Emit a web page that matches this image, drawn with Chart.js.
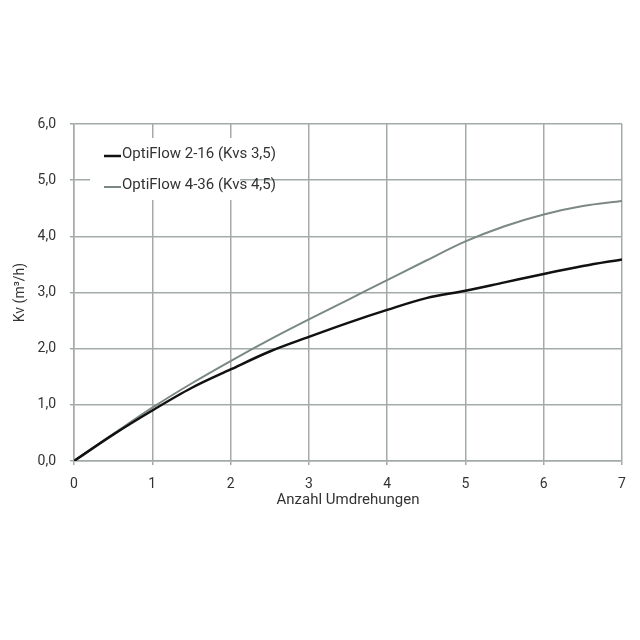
<!DOCTYPE html>
<html>
<head>
<meta charset="utf-8">
<script src="https://cdn.jsdelivr.net/npm/chart.js@4"></script>
<style>
  html, body { margin: 0; padding: 0; background: #fff; }
  #wrap { width: 640px; height: 640px; }
</style>
</head>
<body>
<div id="wrap"><canvas id="chart" width="640" height="640"></canvas></div>
<script>
// turns (Anzahl Umdrehungen)
const turns = [0, 0.5, 1, 1.5, 2, 2.5, 3, 3.5, 4, 4.5, 5, 5.5, 6, 6.5, 7];
// Kv values
const kvSmall = [0, 0.47, 0.9, 1.3, 1.63, 1.95, 2.21, 2.46, 2.69, 2.9, 3.03, 3.18, 3.33, 3.47, 3.59];
const kvLarge = [0, 0.48, 0.95, 1.38, 1.78, 2.16, 2.52, 2.87, 3.22, 3.57, 3.91, 4.18, 4.39, 4.54, 4.63];
const seriesNames = ['OptiFlow 2-16 (Kvs 3,5)', 'OptiFlow 4-36 (Kvs 4,5)'];
const seriesColors = ['#111111', '#7c8885'];

const gridColor = '#a3aba9';
const textColor = '#333333';
const fontFamily = 'Roboto, "DejaVu Sans", sans-serif';

const toPoints = ys => turns.map((x, i) => ({ x: x, y: ys[i] }));

// legend drawn inside the plot on a white box
const innerLegend = {
  id: 'innerLegend',
  afterDatasetsDraw(chart) {
    const ctx = chart.ctx;
    ctx.save();
    ctx.fillStyle = '#ffffff';
    ctx.fillRect(90, 138, 166, 40);
    ctx.fillRect(90, 178, 150, 22);
    ctx.font = '15px ' + fontFamily;
    ctx.textBaseline = 'middle';
    const rows = [156, 187];
    chart.data.datasets.forEach((ds, i) => {
      ctx.strokeStyle = ds.borderColor;
      ctx.lineWidth = i === 0 ? 2.5 : 2;
      ctx.beginPath();
      ctx.moveTo(104, rows[i]);
      ctx.lineTo(121, rows[i]);
      ctx.stroke();
      ctx.fillStyle = textColor;
      ctx.fillText(ds.label, 122, rows[i] - 2);
    });
    ctx.restore();
  }
};

new Chart(document.getElementById('chart'), {
  type: 'line',
  data: {
    datasets: [
      { label: seriesNames[0], data: toPoints(kvSmall), borderColor: seriesColors[0], borderWidth: 2.5,
        pointRadius: 0, cubicInterpolationMode: 'monotone', fill: false },
      { label: seriesNames[1], data: toPoints(kvLarge), borderColor: seriesColors[1], borderWidth: 2,
        pointRadius: 0, cubicInterpolationMode: 'monotone', fill: false }
    ]
  },
  options: {
    responsive: false,
    animation: false,
    layout: { padding: { top: 124, right: 18, bottom: 119, left: 0 } },
    plugins: { legend: { display: false }, tooltip: { enabled: false } },
    scales: {
      x: {
        type: 'linear', min: 0, max: 7,
        ticks: { stepSize: 1, color: textColor, padding: 11, font: { family: fontFamily, size: 14 } },
        grid: { color: gridColor, lineWidth: 1.5, tickLength: 4 },
        border: { color: gridColor, width: 1.5 },
        title: { display: true, text: 'Anzahl Umdrehungen', color: textColor,
                 font: { family: fontFamily, size: 15 }, padding: { top: 0, bottom: 12 } },
        afterFit(scale) { scale.height = 60; }
      },
      y: {
        min: 0, max: 6,
        ticks: { stepSize: 1, color: textColor, padding: 14,
                 font: { family: fontFamily, size: 14 },
                 callback: v => v.toFixed(1).replace('.', ',') },
        grid: { color: gridColor, lineWidth: 1.5, tickLength: 4 },
        border: { color: gridColor, width: 1.5 },
        title: { display: true, text: 'Kv (m³/h)', color: textColor,
                 font: { family: fontFamily, size: 14 }, padding: 12 },
        afterFit(scale) { scale.width = 74; }
      }
    }
  },
  plugins: [innerLegend]
});
</script>
</body>
</html>
